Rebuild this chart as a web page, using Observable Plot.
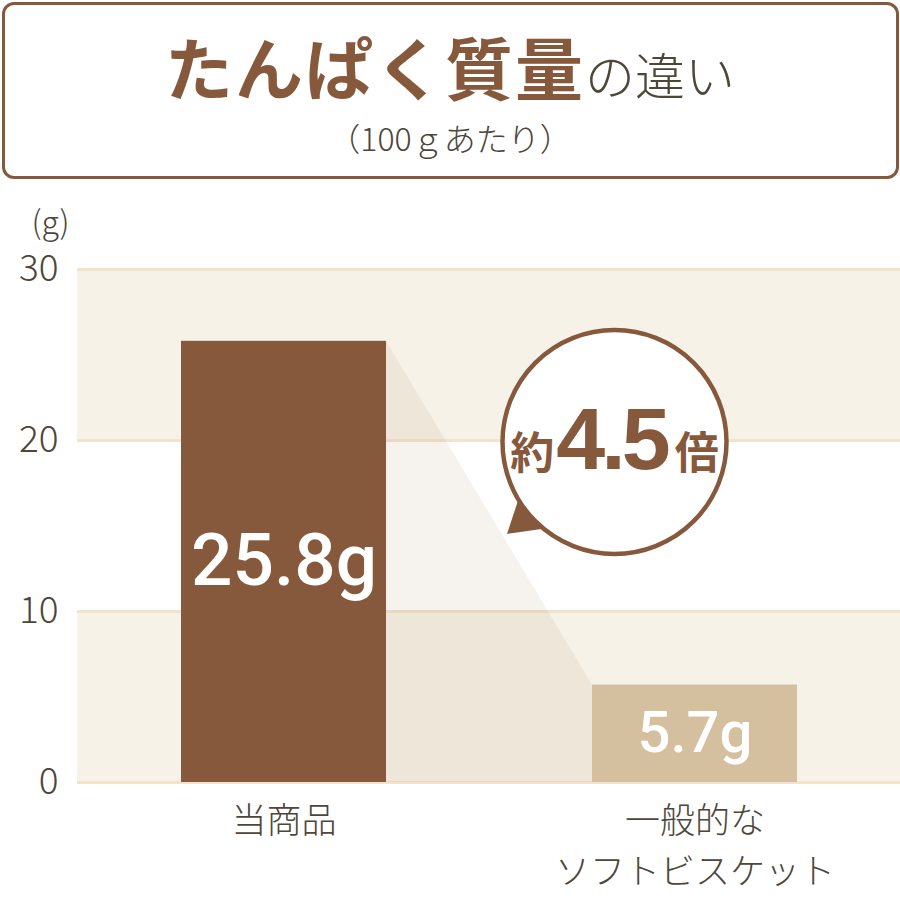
<!DOCTYPE html>
<html><head><meta charset="utf-8">
<script src="https://cdn.jsdelivr.net/npm/d3@7"></script>
<script src="https://cdn.jsdelivr.net/npm/@observablehq/plot@0.6"></script>
<style>
body{margin:0;background:#fff;width:900px;height:900px;position:relative;overflow:hidden;font-family:"Noto Sans CJK JP",sans-serif;}
#box{position:absolute;left:1.5px;top:1.5px;width:897px;height:177px;box-sizing:border-box;border:3px solid #87593c;border-radius:12px;}
#title{position:absolute;left:0;top:32px;width:900px;text-align:center;line-height:1;white-space:nowrap;}
#title .main{font-size:68px;font-weight:700;color:#87593c;letter-spacing:2px}
#title .sub{font-size:50px;color:#4d4639;font-weight:300}
#subtitle{position:absolute;left:0;top:121px;width:900px;text-align:center;font-size:32px;color:#4d4639;line-height:1;font-weight:300}
#chart{position:absolute;left:0;top:180px;}
</style></head><body>
<div id="box"></div>
<div id="title"><span class="main">たんぱく質量</span><span class="sub">の違い</span></div>
<div id="subtitle">（100ｇあたり）</div>
<div id="chart"></div>
<script>
const categories = ["当商品", "一般的な\nソフトビスケット"];
const protein = [25.8, 5.7];
const valueLabels = ["25.8g", "5.7g"];
const yTicks = [0, 10, 20, 30];
const bandRanges = [[20, 30], [0, 10]];
const ratioText = ["約", "4.5", "倍"];
const unitLabel = "(g)";

const brown = "#87593c";
const textGray = "#4d4639";
const data = categories.map((c, i) => ({category: c, value: protein[i], label: valueLabels[i]}));

function connector(index, {x, y}) {
  const bw = x.bandwidth();
  const x1 = x(categories[0]) + bw, x2 = x(categories[1]);
  const p = `M${x1},${y(protein[0])}L${x2},${y(protein[1])}L${x2},${y(0)}L${x1},${y(0)}Z`;
  return d3.create("svg:path").attr("d", p).attr("fill", "rgb(186,155,124)").attr("fill-opacity", 0.13).node();
}

function bubble(index, {x, y}) {
  const cx = x(categories[1]) + x.bandwidth() / 2 - 80;
  const cy = y(20) + 2;
  const r = 112;
  const g = d3.create("svg:g");
  g.append("path")
    .attr("d", `M${cx - 95},${cy + 54}L${cx - 107.5},${cy + 92}L${cx - 66},${cy + 86}Z`)
    .attr("fill", brown);
  g.append("circle").attr("cx", cx).attr("cy", cy).attr("r", r)
    .attr("fill", "#fff").attr("stroke", brown).attr("stroke-width", 4.5);
  const t = g.append("text").attr("x", cx).attr("y", cy + 27).attr("text-anchor", "middle")
    .attr("fill", brown).attr("font-weight", 700);
  t.append("tspan").attr("font-size", 44).attr("font-family", '"Noto Sans CJK JP"').text(ratioText[0]);
  t.append("tspan").attr("font-size", 88).attr("font-family", '"Liberation Sans", Arial')
    .attr("letter-spacing", -4).attr("dx", 2).text(ratioText[1]);
  t.append("tspan").attr("font-size", 44).attr("font-family", '"Noto Sans CJK JP"').attr("dx", 8).text(ratioText[2]);
  return g.node();
}

const chart = Plot.plot({
  width: 900,
  height: 720,
  marginTop: 89,
  marginBottom: 118,
  marginLeft: 77,
  marginRight: 0,
  style: {fontFamily: '"Noto Sans CJK JP", sans-serif', background: "transparent", overflow: "visible"},
  x: {type: "band", domain: categories, paddingInner: 0.5024, paddingOuter: 0.25, align: 0.5},
  y: {domain: [0, 30]},
  color: {domain: categories, range: [brown, "#d4c09e"]},
  marks: [
    Plot.rectY(bandRanges, {y1: d => d[0], y2: d => d[1], fill: "#f7f2e8"}),
    Plot.ruleY(yTicks, {stroke: "#f1e3cc", strokeWidth: 3}),
    connector,
    Plot.barY(data, {x: "category", y: "value", fill: "category"}),
    Plot.text(data, {
      x: "category", y: d => d.value / 2, text: "label", fill: "white",
      fontSize: (d, i) => (i === 0 ? 73 : 58), fontWeight: 500,
      fontFamily: "Roboto, 'Liberation Sans', sans-serif", letterSpacing: 2
    }),
    Plot.axisY(yTicks, {tickSize: 0, tickPadding: 19, fontSize: 37, color: textGray, fontWeight: 300, label: null}),
    Plot.axisX({tickSize: 0, tickPadding: 14, fontSize: 35, lineHeight: 1.46, color: textGray, fontWeight: 300, label: null}),
    Plot.text([unitLabel], {frameAnchor: "top-left", dx: -27, dy: -46, fontSize: 32, fill: textGray, fontWeight: 300, textAnchor: "middle", lineAnchor: "middle"}),
    bubble
  ]
});
document.getElementById("chart").appendChild(chart);
</script>
</body></html>
